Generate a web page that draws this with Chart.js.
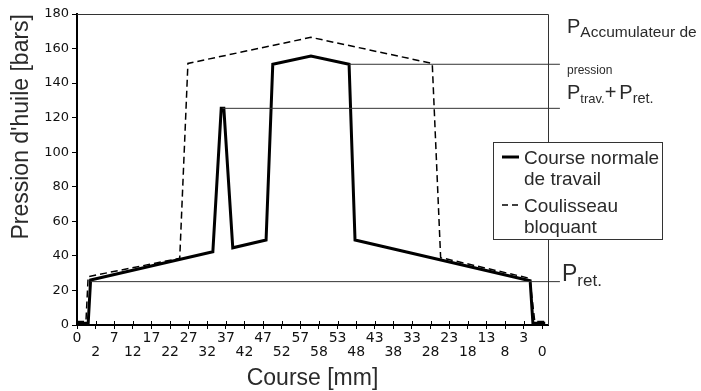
<!DOCTYPE html>
<html>
<head>
<meta charset="utf-8">
<script src="https://cdn.jsdelivr.net/npm/chart.js@4"></script>
<style>
  html, body { margin: 0; padding: 0; background: #fff; }
  #wrap { width: 701px; height: 391px; }
</style>
</head>
<body>
<div id="wrap"><canvas id="pressureChart"></canvas></div>
<script>
// ------------------------------------------------------------------
// Data (x = position index along the stroke, y = pressure in bars)
// ------------------------------------------------------------------
const xTickLabels = ['0', '2', '7', '12', '17', '22', '27', '32', '37', '42', '47', '52', '57',
                     '58', '53', '48', '43', '38', '33', '28', '23', '18', '13', '8', '3', '0'];

const normalX = [0, 0.6, 0.73, 7.30, 7.75, 7.89, 8.37, 10.16, 10.52, 12.57, 14.62, 14.94, 24.35, 24.50, 25.16];
const normalY = [1, 1, 26, 42.4, 125.4, 125.4, 44.7, 49.2, 150.9, 155.7, 150.9, 49.2, 25.6, 1, 1];

const blockedX = [0, 0.48, 0.6, 5.52, 5.96, 12.57, 19.09, 19.54, 24.33, 24.6, 25.2];
const blockedY = [2, 2, 28, 38.6, 151.4, 166.5, 151.4, 39, 27, 2, 2];

// reference levels, drawn out past the right frame
const refAccuX = [14.62, 25.95];
const refAccuY = [150.9, 150.9];
const refTravX = [7.82, 25.95];
const refTravY = [125.4, 125.4];
const refRetX = [0.73, 25.95];
const refRetY = [25.1, 25.1];

const legendLabels = [['Course normale', 'de travail'], ['Coulisseau', 'bloquant']];

function toPoints(xs, ys) {
    return xs.map((x, i) => ({ x: x, y: ys[i] }));
}

const TXT = '#2a2a2a';
const SANS = '"Liberation Sans", Arial, sans-serif';

// ------------------------------------------------------------------
// Custom drawing: frame, inner ticks, legend box, right-hand labels
// ------------------------------------------------------------------
const framePlugin = {
    id: 'frame',
    beforeDatasetsDraw(chart) {
        const { ctx, chartArea: a, scales } = chart;
        ctx.save();
        ctx.strokeStyle = '#333';
        ctx.lineWidth = 1;
        ctx.beginPath();
        ctx.moveTo(a.left, a.top + 0.5);
        ctx.lineTo(a.right + 0.5, a.top + 0.5);
        ctx.lineTo(a.right + 0.5, a.bottom);
        ctx.stroke();
        // inner half of the x ticks (they cross the axis)
        ctx.strokeStyle = '#000';
        ctx.beginPath();
        xTickLabels.forEach((_, i) => {
            const px = Math.round(scales.x.getPixelForValue(i)) + 0.5;
            ctx.moveTo(px, a.bottom);
            ctx.lineTo(px, a.bottom - 4);
        });
        ctx.stroke();
        ctx.restore();
    }
};

function subText(ctx, x, y, parts) {
    // parts: [text, size, dy, extra gap after]
    let cx = x;
    parts.forEach(p => {
        ctx.font = p[1] + 'px ' + SANS;
        ctx.fillText(p[0], cx, y + p[2]);
        cx += ctx.measureText(p[0]).width + (p[3] || 0);
    });
}

const notesPlugin = {
    id: 'notes',
    afterDraw(chart) {
        const { ctx, chartArea: a } = chart;
        ctx.save();

        // legend box
        const bx = a.right - 55, by = 142, bw = 169, bh = 97;
        ctx.fillStyle = '#fff';
        ctx.fillRect(bx, by, bw, bh);
        ctx.strokeStyle = '#333';
        ctx.lineWidth = 1;
        ctx.strokeRect(bx + 0.5, by + 0.5, bw, bh);

        ctx.strokeStyle = '#000';
        ctx.lineWidth = 3;
        ctx.beginPath();
        ctx.moveTo(bx + 9, by + 15);
        ctx.lineTo(bx + 26, by + 15);
        ctx.stroke();
        ctx.lineWidth = 1.5;
        ctx.setLineDash([6, 4]);
        ctx.beginPath();
        ctx.moveTo(bx + 9, by + 63);
        ctx.lineTo(bx + 26, by + 63);
        ctx.stroke();
        ctx.setLineDash([]);

        ctx.fillStyle = TXT;
        ctx.textBaseline = 'alphabetic';
        ctx.font = '19px ' + SANS;
        ctx.fillText(legendLabels[0][0], bx + 31, by + 22);
        ctx.fillText(legendLabels[0][1], bx + 31, by + 43);
        ctx.fillText(legendLabels[1][0], bx + 31, by + 70);
        ctx.fillText(legendLabels[1][1], bx + 31, by + 91);

        // right-hand pressure labels
        const lx = a.right + 19;
        subText(ctx, lx, 33, [['P', 20, 0], ['Accumulateur de', 15.5, 4]]);
        ctx.font = '12px ' + SANS;
        ctx.fillText('pression', lx, 74);
        subText(ctx, lx, 99, [['P', 20, 0], ['trav.', 13, 4], ['+', 20, 0, 3], ['P', 20, 0], ['ret.', 14.5, 4]]);
        subText(ctx, a.right + 14, 281, [['P', 23, 0], ['ret.', 17, 5]]);

        ctx.restore();
    }
};

// ------------------------------------------------------------------
// Chart
// ------------------------------------------------------------------
const refStyle = { borderColor: '#333', borderWidth: 1, pointRadius: 0, fill: false, clip: false };

new Chart(document.getElementById('pressureChart'), {
    type: 'line',
    data: {
        datasets: [
            Object.assign({ data: toPoints(refAccuX, refAccuY) }, refStyle),
            Object.assign({ data: toPoints(refTravX, refTravY) }, refStyle),
            Object.assign({ data: toPoints(refRetX, refRetY) }, refStyle),
            {
                label: 'Coulisseau bloquant',
                data: toPoints(blockedX, blockedY),
                borderColor: '#000',
                borderWidth: 1.5,
                borderDash: [7, 4],
                pointRadius: 0,
                tension: 0
            },
            {
                label: 'Course normale de travail',
                data: toPoints(normalX, normalY),
                borderColor: '#000',
                borderWidth: 3,
                borderJoinStyle: 'miter',
                pointRadius: 0,
                tension: 0
            }
        ]
    },
    options: {
        responsive: true,
        maintainAspectRatio: false,
        animation: false,
        layout: { padding: { left: 7.6, right: 153, top: 14, bottom: 0 } },
        plugins: { legend: { display: false }, tooltip: { enabled: false } },
        scales: {
            x: {
                type: 'linear',
                min: 0,
                max: 25.31,
                border: { display: true, color: '#000', width: 2 },
                grid: { display: true, drawOnChartArea: false, drawTicks: true, tickLength: 4, color: '#000' },
                ticks: {
                    stepSize: 1,
                    autoSkip: false,
                    includeBounds: false,
                    maxRotation: 0,
                    padding: 2,
                    color: '#111',
                    font: { family: '"DejaVu Sans"', size: 14, lineHeight: 1 },
                    callback: (v) => {
                        const i = Math.round(v);
                        const s = xTickLabels[i];
                        if (s === undefined) return '';
                        return i % 2 ? ['', s] : s;
                    }
                },
                title: {
                    display: true,
                    text: 'Course [mm]',
                    color: TXT,
                    font: { family: SANS, size: 23, lineHeight: 1.1 },
                    padding: { top: 4.7, bottom: 0 }
                }
            },
            y: {
                min: 0,
                max: 180,
                border: { display: true, color: '#000', width: 2 },
                grid: { display: true, drawOnChartArea: false, drawTicks: true, tickLength: 5, color: '#000' },
                ticks: {
                    stepSize: 20,
                    padding: 3,
                    color: '#111',
                    font: { family: '"DejaVu Sans"', size: 13 }
                },
                title: {
                    display: true,
                    text: "Pression d'huile [bars]",
                    align: 'end',
                    color: TXT,
                    font: { family: SANS, size: 23, lineHeight: 1.2 },
                    padding: { top: 0, bottom: 6 }
                }
            }
        }
    },
    plugins: [framePlugin, notesPlugin]
});
</script>
</body>
</html>
